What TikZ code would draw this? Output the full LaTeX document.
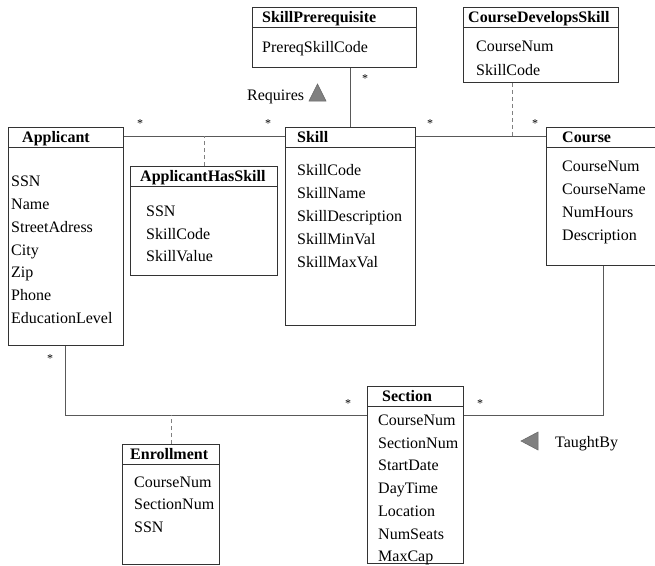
\documentclass[tikz,border=0pt]{standalone}
\usepackage{fontspec}
\setmainfont{Liberation Serif}
\begin{document}
\begin{tikzpicture}[x=1pt,y=-1pt,
  entity/.style={draw=black!80, line width=0.9pt, rectangle, anchor=north west, inner sep=0pt},
  sep/.style={draw=black!80, line width=0.9pt},
  title/.style={anchor=base west, inner sep=0pt, font=\fontsize{16}{18}\selectfont\bfseries},
  attr/.style={anchor=base west, inner sep=0pt, font=\fontsize{16}{18}\selectfont},
  mult/.style={inner sep=0pt, font=\fontsize{12}{14}\selectfont},
  assoc/.style={draw=black!65, line width=0.9pt},
  link/.style={draw=black!50, line width=0.9pt, dash pattern=on 4pt off 3pt},
  marker/.style={fill=black!50, draw=black!60, line width=0.5pt}
]
\useasboundingbox (0,0) rectangle (655,565);

% ---------- entity boxes ----------
\node[entity, minimum width=164pt, minimum height=60pt]  (prereq) at (252,7) {};
\node[entity, minimum width=155pt, minimum height=75pt]  (cds)    at (463,7) {};
\node[entity, minimum width=115pt, minimum height=218pt] (app)    at (8,127) {};
\node[entity, minimum width=147pt, minimum height=109pt] (ahs)    at (130,166) {};
\node[entity, minimum width=130pt, minimum height=198pt] (skill)  at (285,127) {};
\node[entity, minimum width=112pt, minimum height=138pt] (course) at (546,127) {};
\node[entity, minimum width=96pt,  minimum height=177pt] (sec)    at (367,386) {};
\node[entity, minimum width=97pt,  minimum height=120pt] (enr)    at (122,444) {};

% header separators
\foreach \b in {prereq,cds,app,ahs,skill,course,sec,enr}
  \draw[sep] ([yshift=-20pt]\b.north west) -- ([yshift=-20pt]\b.north east);

% ---------- titles ----------
\node[title] (prereq-t) at (262,22)  {SkillPrerequisite};
\node[title] (cds-t)    at (468,22)  {CourseDevelopsSkill};
\node[title] (app-t)    at (22,142)  {Applicant};
\node[title] (ahs-t)    at (140,181) {ApplicantHasSkill};
\node[title] (skill-t)  at (297,142) {Skill};
\node[title] (course-t) at (562,142) {Course};
\node[title] (sec-t)    at (382,401) {Section};
\node[title] (enr-t)    at (130,459) {Enrollment};

% ---------- attributes ----------
\node[attr] (prereq-a1) at (262,52) {PrereqSkillCode};

\node[attr] (cds-a1) at (476,51) {CourseNum};
\node[attr] (cds-a2) at (476,75) {SkillCode};

\node[attr] (app-a1) at (11,186) {SSN};
\node[attr] (app-a2) at (11,209) {Name};
\node[attr] (app-a3) at (11,232) {StreetAdress};
\node[attr] (app-a4) at (11,255) {City};
\node[attr] (app-a5) at (11,277) {Zip};
\node[attr] (app-a6) at (11,300) {Phone};
\node[attr] (app-a7) at (11,323) {EducationLevel};

\node[attr] (ahs-a1) at (146,216) {SSN};
\node[attr] (ahs-a2) at (146,239) {SkillCode};
\node[attr] (ahs-a3) at (146,261) {SkillValue};

\node[attr] (skill-a1) at (297,175) {SkillCode};
\node[attr] (skill-a2) at (297,198) {SkillName};
\node[attr] (skill-a3) at (297,221) {SkillDescription};
\node[attr] (skill-a4) at (297,244) {SkillMinVal};
\node[attr] (skill-a5) at (297,267) {SkillMaxVal};

\node[attr] (course-a1) at (562,171) {CourseNum};
\node[attr] (course-a2) at (562,194) {CourseName};
\node[attr] (course-a3) at (562,217) {NumHours};
\node[attr] (course-a4) at (562,240) {Description};

\node[attr] (sec-a1) at (378,425) {CourseNum};
\node[attr] (sec-a2) at (378,448) {SectionNum};
\node[attr] (sec-a3) at (378,470) {StartDate};
\node[attr] (sec-a4) at (378,493) {DayTime};
\node[attr] (sec-a5) at (378,516) {Location};
\node[attr] (sec-a6) at (378,539) {NumSeats};
\node[attr] (sec-a7) at (378,561) {MaxCap};

\node[attr] (enr-a1) at (134,487) {CourseNum};
\node[attr] (enr-a2) at (134,509) {SectionNum};
\node[attr] (enr-a3) at (134,532) {SSN};

% ---------- associations ----------
\coordinate (reqx) at (350,0);
\coordinate (a2s)  at (204,136);
\coordinate (s2c)  at (512,136);
\coordinate (enrj) at (65,415);
\coordinate (tbj)  at (603,415);

\draw[assoc] ([yshift=-9pt]app.north east) -- ([yshift=-9pt]skill.north west);
\draw[assoc] ([yshift=-9pt]skill.north east) -- ([yshift=-9pt]course.north west);
\draw[assoc] (prereq.south -| reqx) -- (skill.north -| reqx);
\draw[assoc] (app.south -| enrj) -- (enrj) -- (sec.west |- enrj);
\draw[assoc] (course.south -| tbj) -- (tbj) -- (sec.east |- tbj);

% association classes
\draw[link] (ahs.north) -- (ahs.north |- a2s);
\draw[link] (cds.south -| s2c) -- (s2c);
\draw[link] (enr.north) -- (enr.north |- enrj);

% ---------- role names and direction markers ----------
\node[attr] (requires) at (247,100) {Requires};
\filldraw[marker] (309,101) -- (317.5,84) -- (326,101) -- cycle;
\node[attr] (taughtby) at (555,447) {TaughtBy};
\filldraw[marker] (521,441) -- (538,432) -- (538,450) -- cycle;

% ---------- multiplicities ----------
\node[mult] (m-app-skill1) at (140,124) {*};
\node[mult] (m-app-skill2) at (268,124) {*};
\node[mult] (m-prereq)     at (365,79)  {*};
\node[mult] (m-skill-crs1) at (430,124) {*};
\node[mult] (m-skill-crs2) at (535,124) {*};
\node[mult] (m-app-sec)    at (50,359)  {*};
\node[mult] (m-sec-app)    at (348,404) {*};
\node[mult] (m-sec-crs)    at (480,404) {*};
\end{tikzpicture}
\end{document}
